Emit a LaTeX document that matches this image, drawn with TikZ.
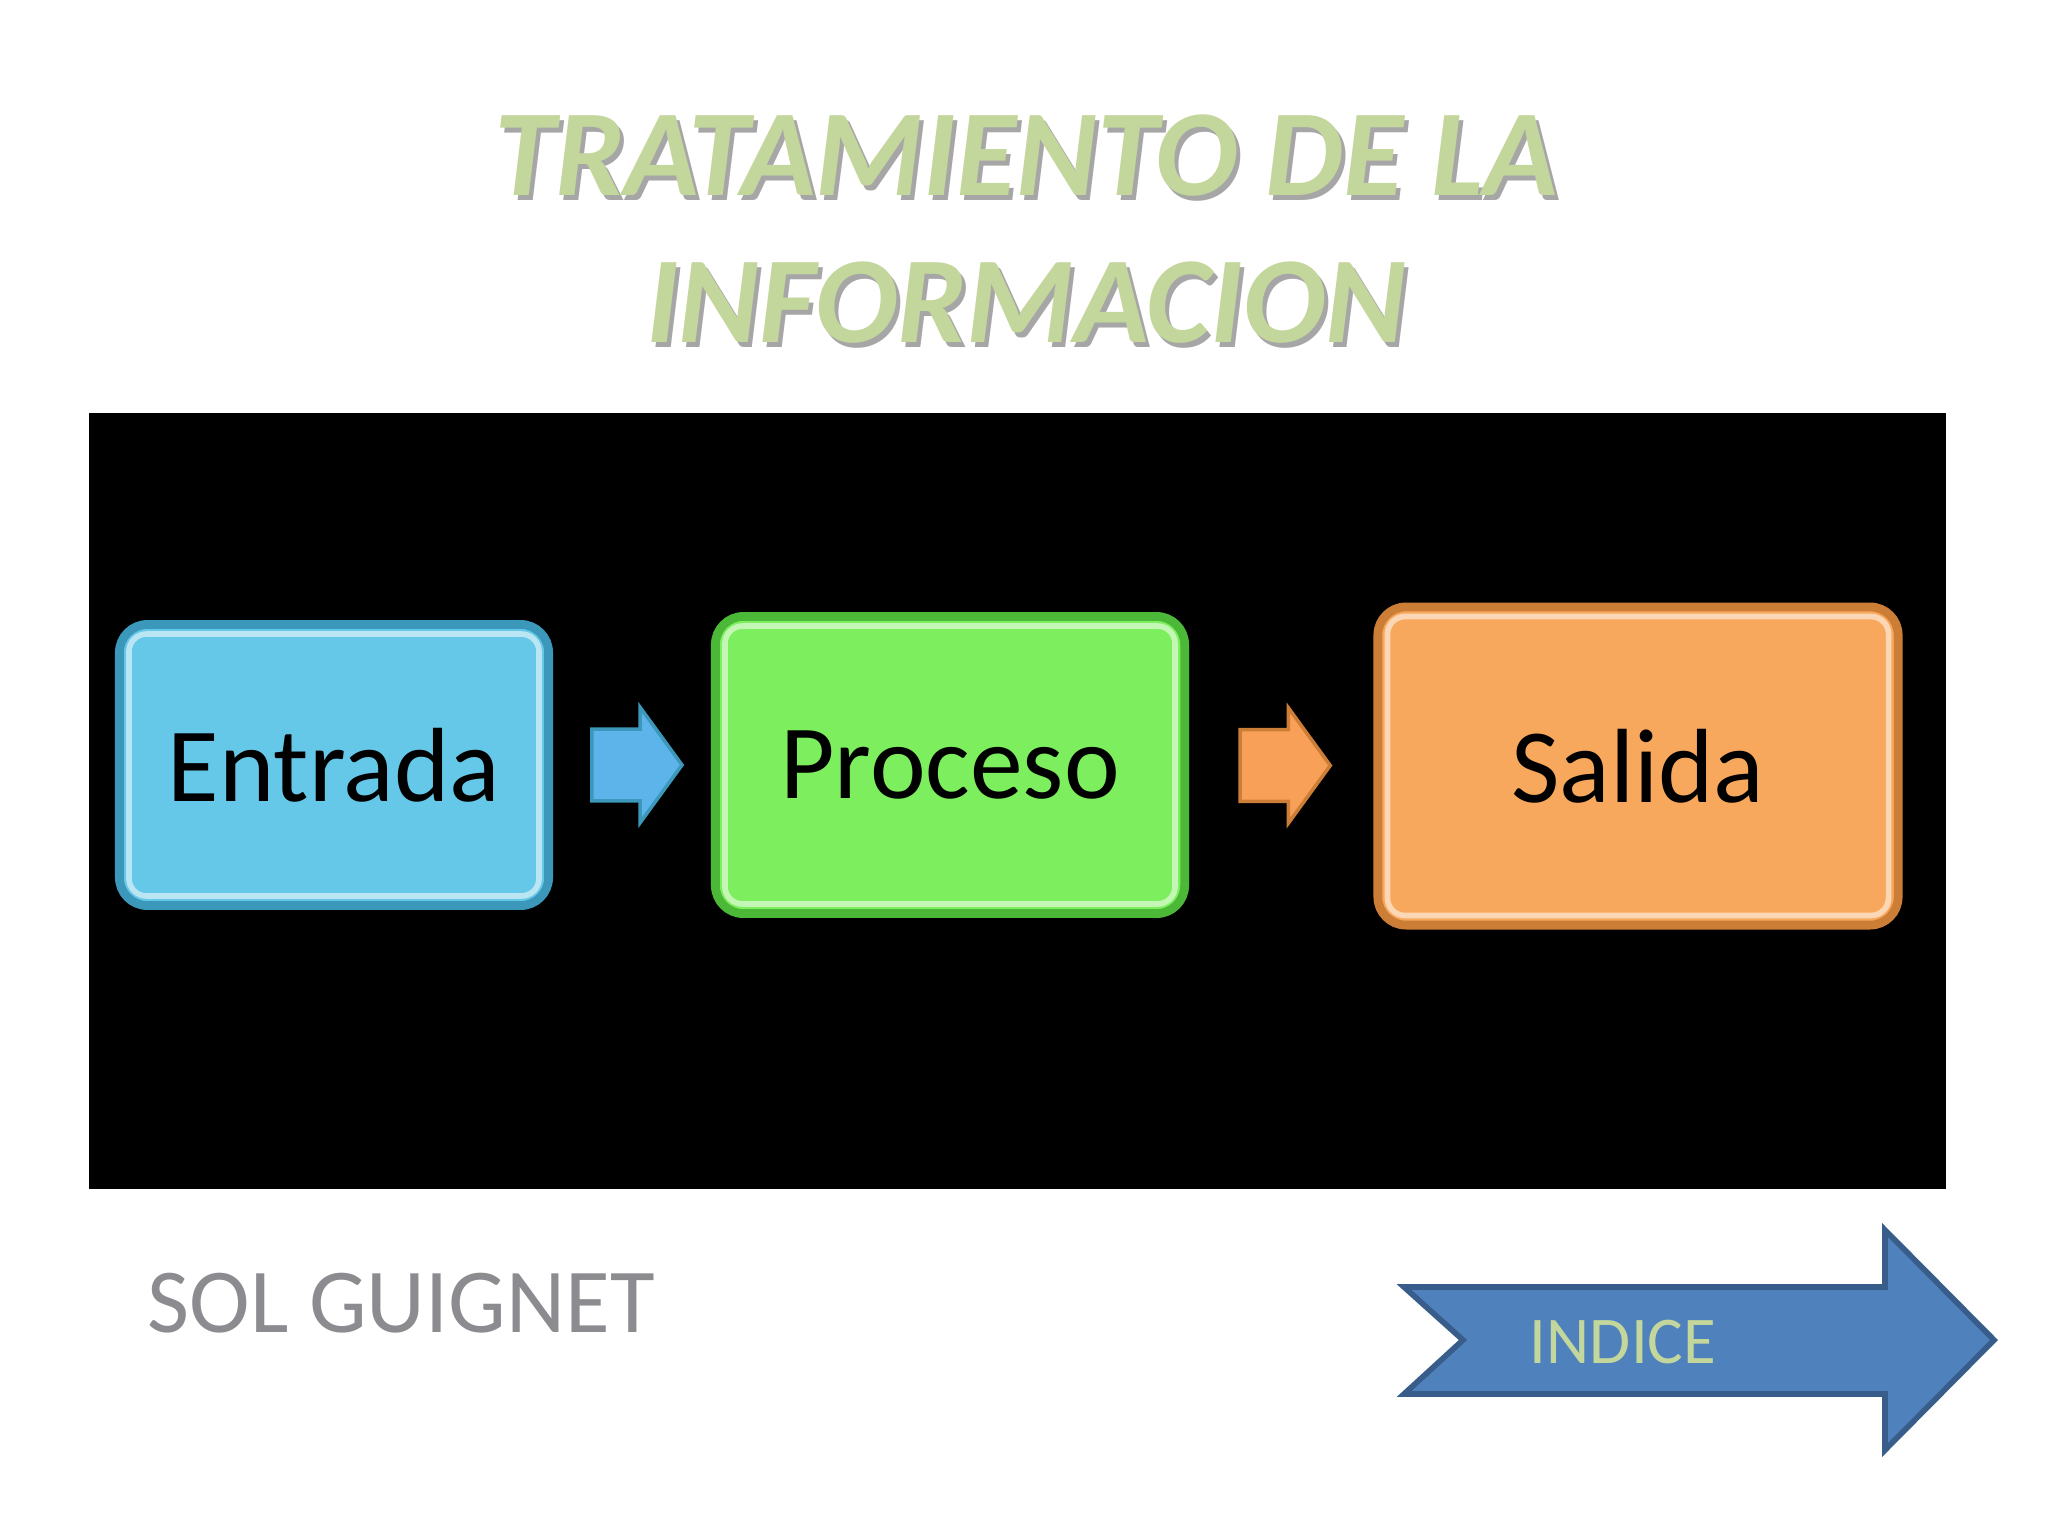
\documentclass[tikz,border=0pt]{standalone}
\usepackage{fontspec}
\setmainfont{Carlito}
\usetikzlibrary{shapes.arrows,calc}
\definecolor{titlegreen}{HTML}{C3D69B}
\definecolor{authorgray}{HTML}{8C8C90}
\definecolor{bluefill}{HTML}{66C8E8}
\definecolor{blueedge}{HTML}{3C98BA}
\definecolor{greenfill}{HTML}{7DEE5E}
\definecolor{greenedge}{HTML}{4CB838}
\definecolor{orangefill}{HTML}{F8A85C}
\definecolor{orangeedge}{HTML}{CC7E36}
\definecolor{indicefill}{HTML}{4F81BD}
\definecolor{indiceedge}{HTML}{385D8A}
\tikzset{
  title/.style={font=\fontsize{35}{42}\selectfont\bfseries\itshape, text=titlegreen, align=center, inner sep=0pt},
  shadow/.style={title, text=black, opacity=0.35},
  box/.style={line width=2.5pt, rounded corners=8pt, inner sep=0pt, font=\fontsize{30}{36}\selectfont, text=black},
  bevel/.style={draw=white, opacity=0.55, line width=1.6pt, rounded corners=5pt},
  flecha/.style={single arrow, minimum height=0.9cm, single arrow head extend=0.22cm, single arrow tip angle=108, inner xsep=0pt, inner ysep=0.34cm, line width=1pt},
  indice/.style={fill=indicefill, draw=indiceedge, line width=1.6pt, line join=miter},
  label/.style={inner sep=0pt}
}
\begin{document}
\begin{tikzpicture}[x=0.01cm,y=-0.01cm]
\useasboundingbox (0,0) rectangle (2048,1536);
\fill[white] (0,0) rectangle (2048,1536);
\fill[black] (89,413) rectangle (1946,1189);
\node[shadow] (sombra) at (1030,234) {TRATAMIENTO DE LA\\INFORMACION};
\node[title] (titulo) at (1026,229) {TRATAMIENTO DE LA\\INFORMACION};
% the three stages
\node[box, fill=bluefill, draw=blueedge, minimum width=4.29cm, minimum height=2.81cm] (entrada) at (334,765) {Entrada};
\node[box, fill=greenfill, draw=greenedge, minimum width=4.69cm, minimum height=2.97cm] (proceso) at (950,765) {Proceso};
\node[box, fill=orangefill, draw=orangeedge, minimum width=5.20cm, minimum height=3.18cm] (salida) at (1638,766) {Salida};
\foreach \n in {entrada,proceso,salida} {\draw[bevel] ([shift={(14,14)}]\n.north west) rectangle ([shift={(-14,-14)}]\n.south east);}
\node[flecha, fill=bluefill!90!blue, draw=blueedge] (f1) at ($(entrada.east)!0.5!(proceso.west)+(-8,0)$) {};
\node[flecha, fill=orangefill!95!red, draw=orangeedge] (f2) at ($(proceso.east)!0.5!(salida.west)+(-9,0)$) {};
% footer
\node[label, anchor=base west, font=\fontsize{26}{31}\selectfont, text=authorgray] (autor) at (147,1332) {SOL GUIGNET};
\draw[indice] (1404,1287) -- (1885,1287) -- (1885,1230) -- (1994,1340) -- (1885,1450) -- (1885,1394) -- (1404,1394) -- (1463,1340) -- cycle;
\node[label, font=\fontsize{19}{23}\selectfont, text=titlegreen] (indicetxt) at (1623,1342) {INDICE};
\end{tikzpicture}
\end{document}
